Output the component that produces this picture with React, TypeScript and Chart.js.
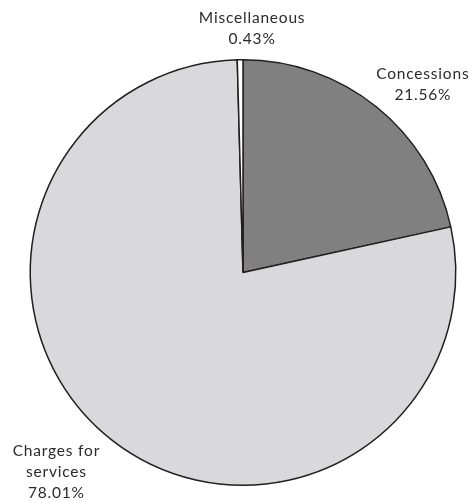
import React, { useEffect, useRef } from "react";
import { Chart, registerables } from "chart.js";

Chart.register(...registerables);

const categories = ["Concessions", "Charges for services", "Miscellaneous"];
const shares = [21.56, 78.01, 0.43];
const labelLines = [["Concessions"], ["Charges for", "services"], ["Miscellaneous"]];
const sliceColors = ["#808080", "#d9d9db", "#ffffff"];

const FONT = "15.5px Lato";
const LINE_H = 21;

// Draws each category label with its percentage just outside the slice edge,
// anchored at the outer point of the slice's middle angle.
const outsideLabels = {
  id: "outsideLabels",
  afterDatasetsDraw(chart: any) {
    const ctx = chart.ctx;
    const meta = chart.getDatasetMeta(0);
    ctx.save();
    ctx.font = FONT;
    (ctx as any).letterSpacing = "0.8px";
    ctx.fillStyle = "#2b2b2b";
    ctx.textAlign = "center";
    ctx.textBaseline = "middle";
    meta.data.forEach((arc: any, i: number) => {
      const { x, y, startAngle, endAngle, outerRadius } = arc.getProps(
        ["x", "y", "startAngle", "endAngle", "outerRadius"],
        true
      );
      const mid = (startAngle + endAngle) / 2;
      const r = outerRadius + 3;
      const ax = x + Math.cos(mid) * r;
      const ay = y + Math.sin(mid) * r;
      const lines = [...labelLines[i], shares[i].toFixed(2) + "%"];
      const w = Math.max(...lines.map((l) => ctx.measureText(l).width));
      const h = lines.length * LINE_H;
      const cx = Math.cos(mid);
      const cy = Math.sin(mid);
      const nearVertical = Math.abs(cx) < 0.2;
      let left: number;
      if (nearVertical) left = ax - w / 2 + 12;
      else if (cx > 0) left = ax - 2;
      else left = ax - w - 10;
      let top: number;
      if (cy < 0) top = ay - h + (nearVertical ? -7 : 1);
      else top = ay - 2;
      lines.forEach((l, k) => {
        ctx.fillText(l, left + w / 2, top + LINE_H * (k + 0.5));
      });
    });
    ctx.restore();
  },
};

export default function App() {
  const ref = useRef<HTMLCanvasElement | null>(null);
  useEffect(() => {
    document.body.style.margin = "0";
    const chart = new Chart(ref.current as HTMLCanvasElement, {
      type: "pie",
      data: {
        labels: categories,
        datasets: [
          {
            data: shares,
            backgroundColor: sliceColors,
            borderColor: "#231f20",
            borderWidth: 1.5,
          },
        ],
      },
      options: {
        responsive: false,
        animation: false,
        layout: { padding: { left: 29, right: 17, top: 59, bottom: 16 } },
        plugins: {
          legend: { display: false },
          tooltip: { enabled: false },
        },
      },
      plugins: [outsideLabels],
    });
    return () => chart.destroy();
  }, []);
  return (
    <div style={{ width: 474, height: 502, background: "#fff" }}>
      <canvas ref={ref} width={474} height={502} />
    </div>
  );
}
